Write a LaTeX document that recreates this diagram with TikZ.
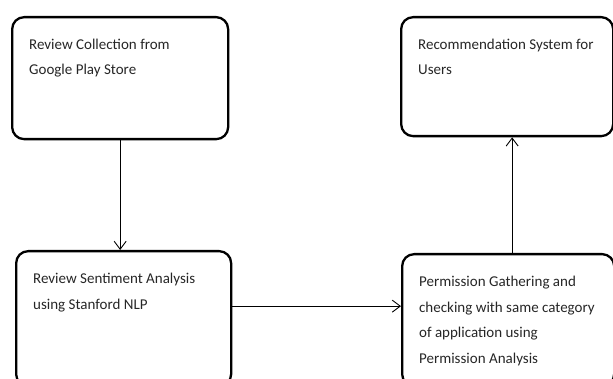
\documentclass[tikz,border=0pt]{standalone}
\usepackage{fontspec}
\setmainfont{Carlito}
\usetikzlibrary{arrows.meta}

\newcommand{\stagetext}[3]{\parbox[b][#2][t]{#1}{\vspace*{14.5pt}\strut #3}}

\begin{document}
\begin{tikzpicture}[x=1pt,y=-1pt]

      \useasboundingbox (0,0) rectangle (613,379);
      \clip (0,0) rectangle (613,379);

      \begin{scope}[every node/.style={draw, line width=2.3pt, rounded corners=12pt,
          anchor=north west, inner xsep=17pt, inner ysep=0pt, text=black!85,
          font=\fontsize{15}{25.5}\selectfont}]
        \node (review)     at (11,16)  {\stagetext{182pt}{122pt}{Review Collection from\\Google Play Store}};
        \node (recommend)  at (400,16) {\stagetext{178pt}{119pt}{Recommendation System for\\Users}};
        \node (sentiment)  at (15,250) {\stagetext{181pt}{135pt}{Review Sentiment Analysis\\using Stanford NLP}};
        \node (permission) at (401,253) {\stagetext{178pt}{132pt}{Permission Gathering and\\checking with same category\\of application using\\Permission Analysis}};
      \end{scope}

      \begin{scope}[every path/.style={draw, line width=0.9pt,
          -{Straight Barb[length=8pt,width=12pt,line width=0.9pt]}}]
        \path (review.south) -- (review.south |- sentiment.north);
        \path ([yshift=12.5pt]sentiment.east) -- ([yshift=12.5pt]sentiment.east -| permission.west);
        \path ([xshift=4pt]permission.north) -- ([xshift=4pt]permission.north |- recommend.south);
      \end{scope}

    \end{tikzpicture}
\end{document}
